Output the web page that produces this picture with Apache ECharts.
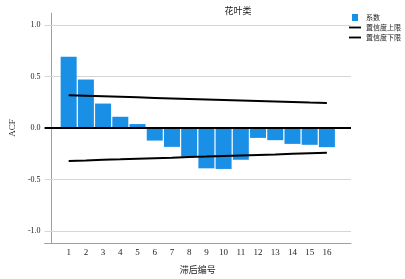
<!DOCTYPE html>
<html>
<head>
<meta charset="utf-8">
<script src="https://cdn.jsdelivr.net/npm/echarts@6/dist/echarts.min.js"></script>
<style>
  html, body { margin: 0; padding: 0; background: #fff; }
  #chart { width: 405px; height: 279px; }
</style>
</head>
<body>
<div id="chart"></div>
<script>
// 滞后编号
const lags = [1, 2, 3, 4, 5, 6, 7, 8, 9, 10, 11, 12, 13, 14, 15, 16];
// ACF 系数
const acf = [0.69, 0.47, 0.237, 0.109, 0.038, -0.122, -0.183, -0.279, -0.391, -0.397, -0.308, -0.096, -0.118, -0.154, -0.163, -0.186];
// 置信度上限 / 下限
const upper = [0.317, 0.312, 0.307, 0.302, 0.297, 0.292, 0.287, 0.282, 0.277, 0.272, 0.267, 0.262, 0.257, 0.252, 0.247, 0.243];
const lower = [-0.320, -0.315, -0.309, -0.304, -0.298, -0.293, -0.288, -0.282, -0.277, -0.271, -0.266, -0.261, -0.256, -0.250, -0.245, -0.240];
const yTicks = [-1.0, -0.5, 0.0, 0.5, 1.0];

const serif = "'Liberation Serif', 'DejaVu Serif', serif";
const cjk = "'Noto Sans CJK SC', sans-serif";

let myChart = echarts.init(document.getElementById("chart"));
myChart.setOption({
  animation: false,
  title: {
    text: "花叶类",
    left: 233,
    top: 1,
    textAlign: "center",
    textStyle: { fontFamily: cjk, fontSize: 9, fontWeight: "normal", color: "#222" },
  },
  legend: {
    orient: "vertical",
    left: 349,
    top: 14,
    itemWidth: 12,
    itemHeight: 7,
    itemGap: 3,
    padding: 0,
    textStyle: { fontFamily: cjk, fontSize: 7, color: "#222" },
    data: [
      { name: "系数", icon: "path://M0,0H6V7H0Z" },
      { name: "置信度上限", icon: "path://M0,0H13V2H0Z" },
      { name: "置信度下限", icon: "path://M0,0H13V2H0Z" },
    ],
  },
  grid: { left: 33, right: 54, top: 13, bottom: 34 },
  xAxis: {
    type: "value",
    min: -0.4,
    max: 17.4,
    name: "滞后编号",
    nameLocation: "middle",
    nameGap: 22,
    nameTextStyle: { fontFamily: cjk, fontSize: 9, color: "#222" },
    axisLine: { show: true, onZero: false, lineStyle: { color: "#a0a0a0", width: 1 } },
    axisTick: { show: false },
    splitLine: { show: false },
    axisLabel: {
      customValues: lags,
      fontFamily: serif,
      fontSize: 9,
      color: "#222",
      margin: 5,
    },
  },
  yAxis: {
    type: "value",
    min: -1.115,
    max: 1.115,
    name: "ACF",
    nameLocation: "middle",
    nameGap: 22,
    nameTextStyle: { fontFamily: serif, fontSize: 9, color: "#222" },
    axisLine: { show: true, lineStyle: { color: "#a0a0a0", width: 1 } },
    axisTick: { show: false },
    splitLine: { show: false },
    axisLabel: {
      customValues: yTicks,
      formatter: (v) => v.toFixed(1),
      fontFamily: serif,
      fontSize: 8,
      color: "#222",
      margin: 4,
    },
  },
  series: [
    {
      name: "系数",
      type: "bar",
      data: lags.map((l, i) => [l, acf[i]]),
      barWidth: 16,
      itemStyle: { color: "#1a8fe6" },
      z: 2,
      markLine: {
        silent: true,
        symbol: "none",
        label: { show: false },
        lineStyle: { color: "#d6d6d6", width: 1, type: "solid" },
        data: [{ yAxis: 1.0 }, { yAxis: 0.5 }, { yAxis: -0.5 }, { yAxis: -1.0 }],
        z: 1,
      },
    },
    {
      name: "零线",
      type: "line",
      data: [],
      markLine: {
        silent: true,
        symbol: "none",
        label: { show: false },
        lineStyle: { color: "#000", width: 2, type: "solid" },
        data: [{ yAxis: 0 }],
      },
      z: 5,
    },
    {
      name: "置信度上限",
      type: "line",
      data: lags.map((l, i) => [l, upper[i]]),
      symbol: "none",
      lineStyle: { color: "#000", width: 2 },
      itemStyle: { color: "#000" },
      z: 6,
    },
    {
      name: "置信度下限",
      type: "line",
      data: lags.map((l, i) => [l, lower[i]]),
      symbol: "none",
      lineStyle: { color: "#000", width: 2 },
      itemStyle: { color: "#000" },
      z: 6,
    },
  ],
});
</script>
</body>
</html>
